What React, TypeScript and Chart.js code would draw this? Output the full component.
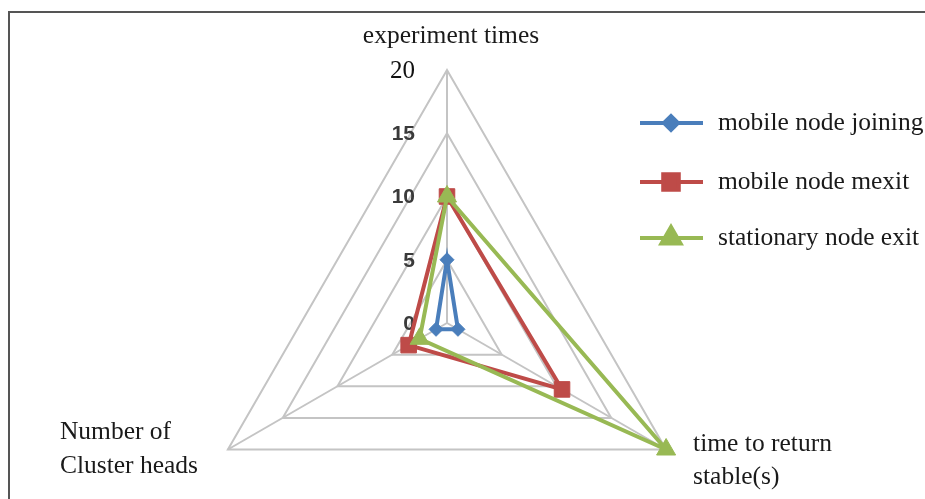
import React, { useEffect, useRef } from 'react';
import { Chart, registerables } from 'chart.js';
import { drawPoint } from 'chart.js/helpers';

Chart.register(...registerables);

// ---- data ----
const categories = ['experiment times', 'time to return stable(s)', 'Number of Cluster heads'];
const categoryLines = [['experiment times'], ['time to return', 'stable(s)'], ['Number of', 'Cluster heads']];
const seriesNames = ['mobile node joining', 'mobile node mexit', 'stationary node exit'];
const mobileJoining = [5, 1, 1];
const mobileExit = [10, 10.5, 3.5];
const stationaryExit = [10, 20, 2.5];
const tickValues = [0, 5, 10, 15, 20];

// ---- styles ----
const BLUE = '#4A7EBB';
const RED = '#BE4B48';
const GREEN = '#98B954';
const SERIF = '"Liberation Serif", "Times New Roman", serif';

const labelOffsets = [
  { dx: 4, dy: -27, align: 'center' as CanvasTextAlign, lh: 33 },
  { dx: 27, dy: 1, align: 'left' as CanvasTextAlign, lh: 33 },
  { dx: -168, dy: -11, align: 'left' as CanvasTextAlign, lh: 34 },
];
const legendRows = [123, 182, 238];

const decorPlugin = {
  id: 'decor',
  beforeDatasetsDraw(chart: any) {
    const ctx = chart.ctx;
    const scale = chart.scales.r;
    ctx.save();
    ctx.textAlign = 'right';
    ctx.textBaseline = 'middle';
    tickValues.forEach((v) => {
      const y = scale.yCenter - scale.getDistanceFromCenterForValue(v);
      const x = scale.xCenter - 32;
      if (v === 20) {
        ctx.font = `25px ${SERIF}`;
        ctx.fillStyle = '#111';
        ctx.fillText(String(v), x, y + 1);
      } else {
        ctx.font = 'bold 21px "Liberation Sans", Arial, sans-serif';
        ctx.fillStyle = '#3a3a3a';
        ctx.fillText(String(v), x, y + 1);
      }
    });
    ctx.restore();
  },
  afterDraw(chart: any) {
    const ctx = chart.ctx;
    const scale = chart.scales.r;
    ctx.save();
    // frame
    ctx.strokeStyle = '#555';
    ctx.lineWidth = 2;
    ctx.beginPath();
    ctx.moveTo(9, 499);
    ctx.lineTo(9, 12);
    ctx.lineTo(925, 12);
    ctx.stroke();

    // axis labels
    ctx.font = `25.5px ${SERIF}`;
    ctx.fillStyle = '#1a1a1a';
    ctx.textBaseline = 'alphabetic';
    categoryLines.forEach((lines, i) => {
      const p = scale.getPointPosition(i, scale.drawingArea);
      const o = labelOffsets[i];
      ctx.textAlign = o.align;
      lines.forEach((t, j) => {
        ctx.fillText(t, p.x + o.dx, p.y + o.dy + j * o.lh);
      });
    });

    // legend
    chart.data.datasets.forEach((ds: any, i: number) => {
      const y = legendRows[i];
      ctx.strokeStyle = ds.borderColor;
      ctx.lineWidth = 4;
      ctx.beginPath();
      ctx.moveTo(640, y);
      ctx.lineTo(703, y);
      ctx.stroke();
      ctx.fillStyle = ds.pointBackgroundColor;
      ctx.strokeStyle = ds.pointBorderColor;
      drawPoint(ctx, { pointStyle: ds.pointStyle, radius: ds.pointRadius, rotation: 0, borderWidth: 1 }, 671, y);
      ctx.font = `25.5px ${SERIF}`;
      ctx.fillStyle = '#1a1a1a';
      ctx.textAlign = 'left';
      ctx.textBaseline = 'middle';
      ctx.fillText(ds.label, 718, y);
    });
    ctx.restore();
  },
};

export default function App() {
  const ref = useRef<HTMLCanvasElement>(null);
  useEffect(() => {
    if (!ref.current) return;
    const mk = (label: string, data: number[], color: string, style: string, r: number, order: number) => ({
      label,
      data,
      borderColor: color,
      backgroundColor: 'transparent',
      pointBackgroundColor: color,
      pointBorderColor: color,
      pointStyle: style,
      pointRadius: r,
      pointBorderWidth: 1,
      borderWidth: 4,
      fill: false,
      order,
    });
    const chart = new Chart(ref.current, {
      type: 'radar',
      data: {
        labels: categories,
        datasets: [
          mk(seriesNames[0], mobileJoining, BLUE, 'rectRot', 7, 0),
          mk(seriesNames[1], mobileExit, RED, 'rect', 11, 2),
          mk(seriesNames[2], stationaryExit, GREEN, 'triangle', 11, 1),
        ],
      },
      options: {
        responsive: false,
        devicePixelRatio: 1,
        animation: false,
        plugins: { legend: { display: false }, tooltip: { enabled: false } },
        scales: {
          r: {
            min: 0,
            max: 20,
            ticks: { stepSize: 5, display: false },
            pointLabels: { display: false },
            grid: { color: '#c4c4c4', lineWidth: 2 },
            angleLines: { color: '#c4c4c4', lineWidth: 2 },
            afterFit: (s: any) => {
              s.xCenter = 447;
              s.yCenter = 323;
              s.drawingArea = 253;
            },
          },
        },
      },
      plugins: [decorPlugin],
    } as any);
    return () => chart.destroy();
  }, []);
  return (
    <div style={{ position: 'fixed', left: 0, top: 0, width: 925, height: 499, background: '#fff' }}>
      <canvas ref={ref} width={925} height={499} />
    </div>
  );
}
